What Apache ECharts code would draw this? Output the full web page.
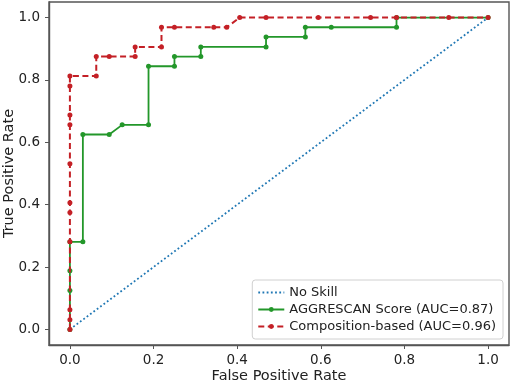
<!DOCTYPE html>
<html>
<head>
<meta charset="utf-8">
<script src="https://cdn.jsdelivr.net/npm/echarts@6/dist/echarts.min.js"></script>
<style>
  html, body { margin: 0; padding: 0; background: #fff; }
  #roc-chart { width: 512px; height: 384px; }
</style>
</head>
<body>
<div id="roc-chart"></div>
<script>
// chart values
const tickValues = [0, 0.2, 0.4, 0.6, 0.8, 1.0];

const noSkillFpr = [0, 1];
const noSkillTpr = [0, 1];

const aggrescanFpr = [0, 0, 0, 0, 0.031, 0.031, 0.094, 0.125, 0.188, 0.188, 0.25, 0.25, 0.313, 0.313, 0.469, 0.469, 0.563, 0.563, 0.625, 0.781, 0.781, 1.0];
const aggrescanTpr = [0, 0.125, 0.188, 0.281, 0.281, 0.625, 0.625, 0.656, 0.656, 0.844, 0.844, 0.875, 0.875, 0.906, 0.906, 0.938, 0.938, 0.969, 0.969, 0.969, 1.0, 1.0];

const compositionFpr = [0, 0, 0, 0, 0, 0, 0, 0, 0, 0, 0, 0.063, 0.063, 0.094, 0.156, 0.156, 0.219, 0.219, 0.25, 0.344, 0.375, 0.406, 0.469, 0.594, 0.719, 0.781, 0.906, 1.0];
const compositionTpr = [0, 0.031, 0.063, 0.281, 0.375, 0.406, 0.531, 0.656, 0.688, 0.781, 0.813, 0.813, 0.875, 0.875, 0.875, 0.906, 0.906, 0.969, 0.969, 0.969, 0.969, 1.0, 1.0, 1.0, 1.0, 1.0, 1.0, 1.0];

const seriesNames = ['No Skill', 'AGGRESCAN Score (AUC=0.87)', 'Composition-based (AUC=0.96)'];

function pairs(xs, ys) {
	return xs.map((x, i) => [x, ys[i]]);
}

const FONT = 'DejaVu Sans';
const TEXT = '#222';
const FRAME = '#555';
const BLUE = '#1f77b4';
const GREEN = '#23972a';
const RED = '#c42026';

function axisCommon(name, nameGap, labelMargin) {
	return {
		type: 'value',
		min: -0.05,
		max: 1.05,
		name: name,
		nameLocation: 'middle',
		nameGap: nameGap,
		nameMoveOverlap: false,
		nameTextStyle: { fontFamily: FONT, fontSize: 14.5, color: TEXT },
		axisLine: { show: true, onZero: false, lineStyle: { color: FRAME, width: 1.4 } },
		axisTick: { show: true, length: 4, lineStyle: { color: FRAME, width: 1 }, customValues: tickValues },
		axisLabel: {
			fontFamily: FONT, fontSize: 13.5, color: TEXT, margin: labelMargin,
			customValues: tickValues,
			formatter: v => v.toFixed(1)
		},
		splitLine: { show: false }
	};
}

const chart = echarts.init(document.getElementById('roc-chart'), null, { renderer: 'canvas' });

const option = {
	backgroundColor: '#fff',
	animation: false,
	grid: {
		left: 49, right: 3, top: 2, bottom: 39,
		show: true, borderColor: FRAME, borderWidth: 1.4,
		containLabel: false,
		outerBoundsMode: 'none'
	},
	xAxis: axisCommon('False Positive Rate', 24, 8),
	yAxis: axisCommon('True Positive Rate', 32, 9),
	legend: {
		orient: 'vertical',
		right: 9,
		bottom: 45,
		data: seriesNames,
		backgroundColor: '#fff',
		borderColor: '#d0d0d0',
		borderWidth: 1,
		borderRadius: 3,
		padding: [6, 7, 6, 5],
		itemWidth: 26,
		itemHeight: 6,
		itemGap: 4,
		textStyle: { fontFamily: FONT, fontSize: 13, color: TEXT }
	},
	series: [
		{
			name: seriesNames[0],
			type: 'line',
			data: pairs(noSkillFpr, noSkillTpr),
			showSymbol: false,
			symbol: 'none',
			lineStyle: { color: BLUE, width: 1.8, type: [1.8, 2.4] },
			itemStyle: { color: BLUE, opacity: 0 },
			z: 2
		},
		{
			name: seriesNames[1],
			type: 'line',
			data: pairs(aggrescanFpr, aggrescanTpr),
			symbol: 'circle',
			symbolSize: 5,
			lineStyle: { color: GREEN, width: 1.8 },
			itemStyle: { color: GREEN },
			z: 3
		},
		{
			name: seriesNames[2],
			type: 'line',
			data: pairs(compositionFpr, compositionTpr),
			symbol: 'circle',
			symbolSize: 5,
			lineStyle: { color: RED, width: 2, type: [6, 3.5] },
			itemStyle: { color: RED },
			z: 4
		}
	]
};

chart.setOption(option);
</script>
</body>
</html>
